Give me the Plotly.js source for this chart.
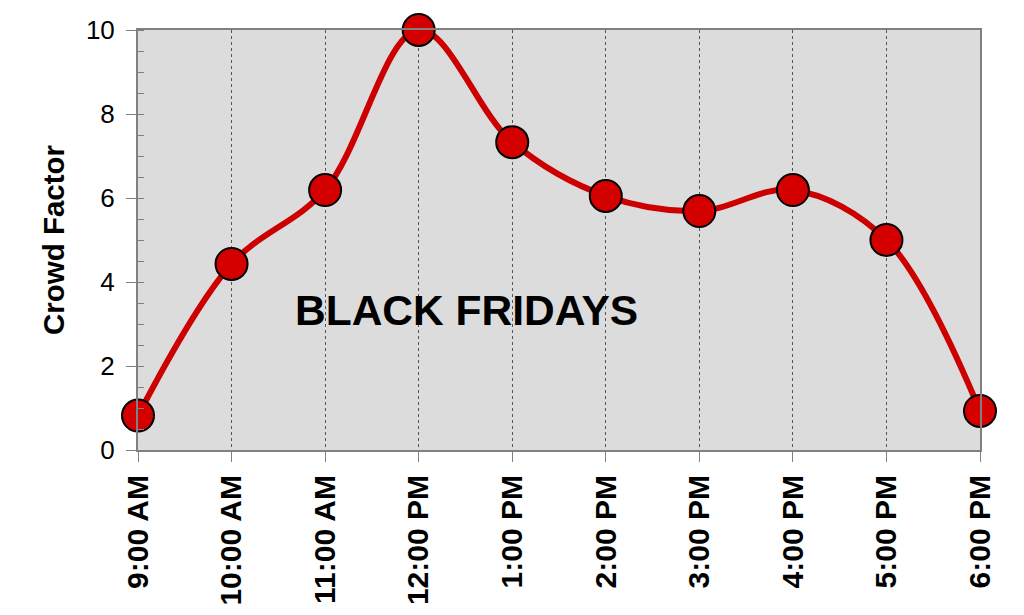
<!DOCTYPE html>
<html>
<head>
<meta charset="utf-8">
<script src="https://cdn.plot.ly/plotly-3.0.1.min.js"></script>
<style>html,body{margin:0;padding:0;background:#fff;}#chart{width:1024px;height:615px;}</style>
</head>
<body>
<div id="chart"></div>
<script>
const times = ["9:00 AM","10:00 AM","11:00 AM","12:00 PM","1:00 PM","2:00 PM","3:00 PM","4:00 PM","5:00 PM","6:00 PM"];
const crowdFactor = [0.82, 4.43, 6.19, 10.0, 7.33, 6.05, 5.69, 6.19, 5.0, 0.93];
const chartLabel = "BLACK FRIDAYS";
const yTitle = "Crowd Factor";

const trace = {
  x: times,
  y: crowdFactor,
  type: "scatter",
  mode: "lines+markers",
  line: {shape: "spline", smoothing: 1, color: "#cc0000", width: 6},
  marker: {size: 32, color: "#d40000", line: {color: "#000", width: 2}},
  cliponaxis: false,
  hoverinfo: "x+y"
};

const layout = {
  width: 1024, height: 615,
  margin: {l: 138, r: 44, t: 30, b: 165},
  paper_bgcolor: "#ffffff",
  plot_bgcolor: "#dcdcdc",
  showlegend: false,
  font: {family: "Arial, 'Liberation Sans', sans-serif", color: "#000"},
  xaxis: {
    type: "category",
    range: [0, 9],
    tickangle: -90,
    tickfont: {size: 30, family: "Arial, 'Liberation Sans', sans-serif", weight: "bold"},
    ticks: "outside", ticklen: 10, tickcolor: "#808080", tickwidth: 1,
    ticklabelstandoff: 1,
    showgrid: true, gridcolor: "#555555", griddash: "dot", gridwidth: 1,
    showline: true, linecolor: "#808080", linewidth: 2, mirror: true,
    zeroline: false, automargin: false
  },
  yaxis: {
    range: [0, 10],
    dtick: 2,
    tickfont: {size: 26},
    ticks: "outside", ticklen: 10, tickcolor: "#808080", tickwidth: 1,
    ticklabelstandoff: 6,
    minor: {dtick: 0.5, ticks: "inside", ticklen: 6, tickcolor: "#808080", showgrid: false},
    showgrid: false, zeroline: false,
    showline: true, linecolor: "#808080", linewidth: 2, mirror: true,
    title: {text: yTitle, font: {size: 29.5, weight: "bold"}, standoff: 13},
    automargin: false
  },
  annotations: [{
    x: 3.51, y: 3.31, xref: "x", yref: "y",
    text: "<b>" + chartLabel + "</b>",
    showarrow: false,
    font: {size: 42.5, color: "#000"},
    xanchor: "center", yanchor: "middle"
  }]
};

Plotly.newPlot("chart", [trace], layout, {displayModeBar: false, staticPlot: true});
</script>
</body>
</html>
